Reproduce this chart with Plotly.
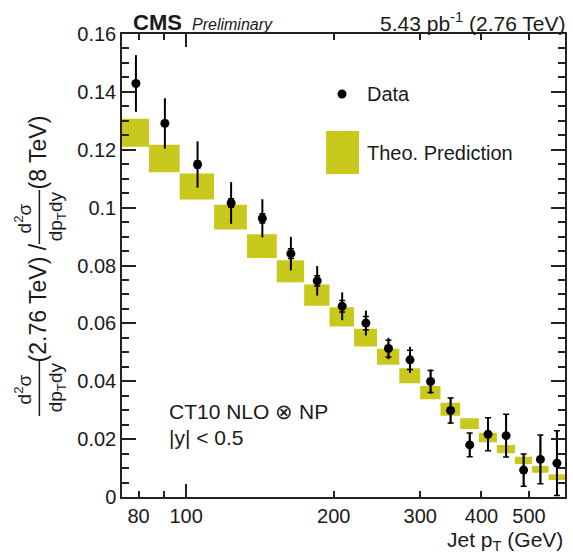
import math
import plotly.graph_objects as go

# ---------------- data ----------------
bin_edges = [74, 84, 97, 114, 133, 153, 174, 196, 220, 245, 272, 300, 330,
             362, 395, 430, 468, 507, 548, 592]
data_ratio = [0.1429, 0.1291, 0.1149, 0.1016, 0.0963, 0.0841, 0.0747, 0.0659,
              0.0601, 0.0513, 0.0474, 0.0399, 0.0299, 0.0180, 0.0217, 0.0212,
              0.0093, 0.0130, 0.0117]
data_err_total = [0.0098, 0.0087, 0.0080, 0.0072, 0.0066, 0.0058, 0.0051, 0.0048,
                  0.0043, 0.0037, 0.0045, 0.0042, 0.0046, 0.0041, 0.0057, 0.0074,
                  0.0056, 0.0084, 0.0112]
data_err_stat = [0.0008, 0.0010, 0.0012, 0.0015, 0.0016, 0.0017, 0.0018, 0.0020,
                 0.0023, 0.0029, 0.0033, 0.0038, 0.0043, 0.0041, 0.0057, 0.0074,
                 0.0056, 0.0084, 0.0112]
theo_low = [0.1210, 0.1122, 0.1028, 0.0924, 0.0826, 0.0742, 0.0661, 0.0589,
            0.0520, 0.0457, 0.0393, 0.0338, 0.0281, 0.0235, 0.0189, 0.0151,
            0.0114, 0.0084, 0.0059]
theo_high = [0.1307, 0.1217, 0.1118, 0.1010, 0.0908, 0.0818, 0.0734, 0.0656,
             0.0581, 0.0512, 0.0445, 0.0384, 0.0326, 0.0272, 0.0222, 0.0180,
             0.0139, 0.0107, 0.0079]
x_tick_vals = [80, 100, 200, 300, 400, 500]
x_tick_text = ['80', '100', '200', '300', '400', '500']
x_minor_vals = [90]
y_tick_vals = [0, 0.02, 0.04, 0.06, 0.08, 0.10, 0.12, 0.14, 0.16]
y_tick_text = ['0', '0.02', '0.04', '0.06', '0.08', '0.1', '0.12', '0.14', '0.16']

# ---------------- geometry helpers ----------------
W, H = 573, 558
ML, MR, MT, MB = 122, 6, 34, 61
PW, PH = W - ML - MR, H - MT - MB


def px(xp):
    return (xp - ML) / PW


def py(yp):
    return (H - MB - yp) / PH


FONT = "Liberation Sans, Arial, Helvetica, sans-serif"
TXT = "#1a1a1a"
BOX = "#c9c81c"

xr = [math.log10(bin_edges[0]), math.log10(bin_edges[-1])]
centers = [(a + b) / 2 for a, b in zip(bin_edges[:-1], bin_edges[1:])]

# theory boxes as polygons
bx, by = [], []
for lo, hi, yl, yh in zip(bin_edges[:-1], bin_edges[1:], theo_low, theo_high):
    bx += [lo, hi, hi, lo, lo, None]
    by += [yl, yl, yh, yh, yl, None]

fig = go.Figure()
fig.add_trace(go.Scatter(x=bx, y=by, mode="lines", fill="toself",
                         fillcolor=BOX, line=dict(width=0, color=BOX),
                         hoverinfo="skip", showlegend=False, xaxis="x", yaxis="y"))
# total uncertainty
fig.add_trace(go.Scatter(x=centers, y=data_ratio, mode="markers",
                         marker=dict(size=1, color="rgba(0,0,0,0)"),
                         error_y=dict(type="data", array=data_err_total, width=0,
                                      thickness=2, color="black"),
                         showlegend=False, hoverinfo="skip", xaxis="x2", yaxis="y"))
# statistical uncertainty with caps
fig.add_trace(go.Scatter(x=centers, y=data_ratio, mode="markers",
                         marker=dict(size=1, color="rgba(0,0,0,0)"),
                         error_y=dict(type="data", array=data_err_stat, width=3,
                                      thickness=1.5, color="black"),
                         showlegend=False, hoverinfo="skip", xaxis="x2", yaxis="y"))
fig.add_trace(go.Scatter(x=centers, y=data_ratio, mode="markers",
                         marker=dict(size=9, color="black", symbol="circle"),
                         showlegend=False, xaxis="x2", yaxis="y"))

axis_common = dict(showgrid=False, zeroline=False, ticks="inside",
                   tickcolor="#222", tickwidth=1.5, linecolor="#222", linewidth=1.5)

fig.update_layout(
    width=W, height=H,
    margin=dict(l=ML, r=MR, t=MT, b=MB, pad=0),
    paper_bgcolor="white", plot_bgcolor="white",
    font=dict(family=FONT, color=TXT, size=20),
    showlegend=False,
    xaxis=dict(type="log", range=xr, tickmode="array", tickvals=x_tick_vals,
               ticktext=x_tick_text, ticklen=6, showline=True, mirror="ticks",
               tickfont=dict(size=20, color=TXT),
               minor=dict(tickmode="array", tickvals=x_minor_vals, ticklen=6,
                          ticks="inside", tickcolor="#222", tickwidth=1.5,
                          showgrid=False),
               **axis_common),
    xaxis2=dict(type="log", range=xr, overlaying="x", anchor="y", tickmode="array",
                tickvals=[100], ticklen=13, showticklabels=False, showline=False,
                mirror="ticks", showgrid=False, zeroline=False, ticks="inside",
                tickcolor="#222", tickwidth=1.5),
    yaxis=dict(range=[0, 0.16], tickmode="array", tickvals=y_tick_vals,
               ticktext=y_tick_text, ticklen=14, showline=True, mirror="ticks",
               tickfont=dict(size=20, color=TXT),
               minor=dict(dtick=0.005, ticklen=7, ticks="inside", tickcolor="#222",
                          tickwidth=1.5, showgrid=False),
               **axis_common),
)

ann = []
shapes = []


def add_text(text, x, y, size, xanchor="left", yanchor="middle", angle=0):
    ann.append(dict(text=text, x=px(x), y=py(y), xref="paper", yref="paper",
                    xanchor=xanchor, yanchor=yanchor, showarrow=False,
                    textangle=angle, font=dict(family=FONT, size=size, color=TXT)))


# header
add_text("<b>CMS</b>", 131, 23, 22)
add_text("<i>Preliminary</i>", 190, 24, 16)
add_text("5.43 pb<sup>-1</sup> (2.76 TeV)", 569, 22, 21, xanchor="right")

# x-axis title
add_text("Jet p<sub>T</sub> (GeV)", 567, 541, 21, xanchor="right")

# y-axis title (rotated, built from pieces)
add_text("(8 TeV)", 38, 152, 23, xanchor="center", angle=-90)
add_text("d<sup>2</sup>σ", 23, 218, 19, xanchor="center", angle=-90)
add_text("dp<sub>T</sub>dy", 57, 216, 19, xanchor="center", angle=-90)
shapes.append(dict(type="line", xref="paper", yref="paper", x0=px(39), x1=px(39),
                   y0=py(190), y1=py(244), line=dict(color=TXT, width=1.5)))
add_text("(2.76 TeV) /", 38, 303, 23, xanchor="center", angle=-90)
add_text("d<sup>2</sup>σ", 23, 389, 19, xanchor="center", angle=-90)
add_text("dp<sub>T</sub>dy", 57, 387, 19, xanchor="center", angle=-90)
shapes.append(dict(type="line", xref="paper", yref="paper", x0=px(39), x1=px(39),
                   y0=py(361), y1=py(416), line=dict(color=TXT, width=1.5)))

# legend (drawn manually)
shapes.append(dict(type="circle", xref="paper", yref="paper",
                   x0=px(338.5), x1=px(347.5), y0=py(89.5), y1=py(98.5),
                   fillcolor="black", line=dict(width=0)))
add_text("Data", 366, 94, 20)
shapes.append(dict(type="rect", xref="paper", yref="paper",
                   x0=px(327), x1=px(360), y0=py(131), y1=py(174),
                   fillcolor=BOX, line=dict(width=0)))
add_text("Theo. Prediction", 366, 153, 20)

# annotation text
add_text("CT10 NLO ⊗ NP", 167, 411, 21)
add_text("|y| < 0.5", 167, 437, 21)

fig.update_layout(annotations=ann, shapes=shapes)
fig.write_html("out.html")
